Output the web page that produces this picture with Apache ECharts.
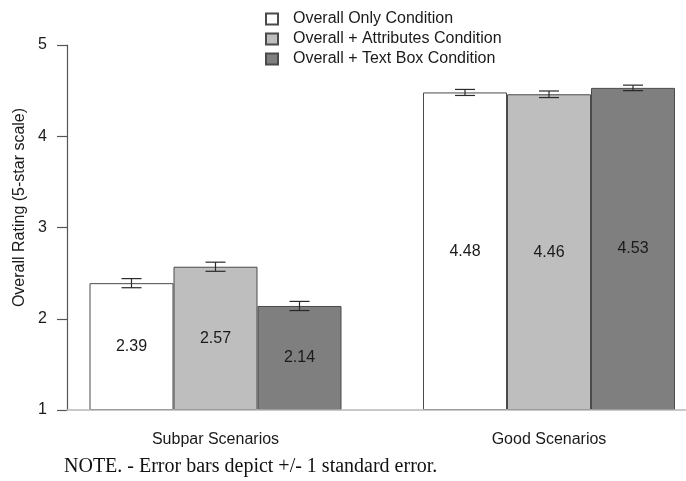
<!DOCTYPE html>
<html>
<head>
<meta charset="utf-8">
<script src="https://cdn.jsdelivr.net/npm/echarts@6/dist/echarts.min.js"></script>
<style>html,body{margin:0;padding:0;background:#fff}#c{width:686px;height:481px}</style>
</head>
<body>
<div id="c"></div>
<script>
const categories = ['Subpar Scenarios', 'Good Scenarios'];
const seriesNames = ['Overall Only Condition', 'Overall + Attributes Condition', 'Overall + Text Box Condition'];
const overallOnly = [2.39, 4.48];
const overallAttributes = [2.57, 4.46];
const overallTextBox = [2.14, 4.53];
const seOverallOnly = [0.05, 0.033];
const seOverallAttributes = [0.05, 0.036];
const seOverallTextBox = [0.05, 0.03];
const yTicks = [1, 2, 3, 4, 5];
const yAxisTitle = 'Overall Rating (5-star scale)';
const noteText = 'NOTE. - Error bars depict +/- 1 standard error.';

const FONT = '"Liberation Sans", Arial, Helvetica, sans-serif';
const colors = ['#ffffff', '#bebebe', '#7f7f7f'];
const BAR_W = 84;
// layout of the category slots (pixels): plot from 67 to 686, slot centers at 215.5 and 549
const GRID_L = 67, GRID_R = 686, C1 = 215.5, C2 = 549;
const slot = C2 - C1;
const xMin = 1 - (C1 - GRID_L) / slot;
const xMax = 2 + (GRID_R - C2) / slot;
const catPos = categories.map((c, i) => i + 1);

const values = [overallOnly, overallAttributes, overallTextBox];
const ses = [seOverallOnly, seOverallAttributes, seOverallTextBox];

const barSeries = values.map((v, k) => ({
  name: seriesNames[k],
  type: 'bar',
  data: v.map((val, i) => [catPos[i], val]),
  barWidth: BAR_W,
  barGap: '0%',
  itemStyle: { color: colors[k], borderColor: '#4a4a4a', borderWidth: 1 },
  label: { show: true, position: 'inside', color: '#1a1a1a', fontSize: 16, fontFamily: FONT,
           formatter: p => p.value[1].toFixed(2) },
  emphasis: { disabled: true },
  z: 2
}));

const errData = [];
values.forEach((v, k) => v.forEach((val, i) => errData.push([catPos[i], val, ses[k][i], k])));

const errSeries = {
  type: 'custom',
  data: errData,
  z: 5,
  silent: true,
  renderItem: function (params, api) {
    const xv = api.value(0), val = api.value(1), se = api.value(2), k = api.value(3);
    const c = api.coord([xv, val]);
    const x = c[0] + (k - 1) * BAR_W;
    const yHi = api.coord([xv, val + se])[1];
    const yLo = api.coord([xv, val - se])[1];
    const hw = 10;
    const st = { stroke: '#2a2a2a', lineWidth: 1.2 };
    return { type: 'group', children: [
      { type: 'line', shape: { x1: x, y1: yHi, x2: x, y2: yLo }, style: st },
      { type: 'line', shape: { x1: x - hw, y1: yHi, x2: x + hw, y2: yHi }, style: st },
      { type: 'line', shape: { x1: x - hw, y1: yLo, x2: x + hw, y2: yLo }, style: st }
    ]};
  }
};

const chart = echarts.init(document.getElementById('c'), null, { renderer: 'canvas' });
chart.setOption({
  animation: false,
  backgroundColor: '#ffffff',
  textStyle: { fontFamily: FONT },
  legend: {
    orient: 'vertical', left: 265, top: 11, padding: 0,
    itemWidth: 12, itemHeight: 11, itemGap: 4,
    icon: 'rect',
    data: seriesNames,
    textStyle: { fontSize: 16, color: '#1a1a1a', fontFamily: FONT, padding: [0, 0, 0, 10] },
    selectedMode: false
  },
  grid: { left: GRID_L, right: 686 - GRID_R, top: 45, bottom: 71, containLabel: false },
  xAxis: {
    type: 'value', min: xMin, max: xMax, z: 10,
    axisLine: { show: true, onZero: false, lineStyle: { color: '#b8b8b8', width: 1.5 } },
    axisTick: { show: false },
    axisLabel: { show: true, customValues: catPos, fontSize: 16, color: '#1a1a1a', margin: 22, fontFamily: FONT,
                 formatter: v => categories[Math.round(v) - 1] || '' },
    splitLine: { show: false }
  },
  yAxis: {
    type: 'value', min: yTicks[0], max: yTicks[yTicks.length - 1], interval: 1, startValue: 1,
    axisLine: { show: true, lineStyle: { color: '#555555', width: 1.2 } },
    axisTick: { show: true, length: 10, lineStyle: { color: '#555555', width: 1.2 } },
    axisLabel: { fontSize: 16, color: '#1a1a1a', margin: 20, fontFamily: FONT },
    splitLine: { show: false }
  },
  series: barSeries.concat([errSeries]),
  graphic: [
    { type: 'text', x: 20, y: 207.5, rotation: Math.PI / 2,
      style: { text: yAxisTitle, fontSize: 16, fontFamily: FONT, fill: '#1a1a1a',
               textAlign: 'center', textVerticalAlign: 'middle' } },
    { type: 'text', left: 64, top: 457,
      style: { text: noteText, fontSize: 20, fontFamily: '"Liberation Serif", "Times New Roman", serif', fill: '#111' } }
  ]
});
</script>
</body>
</html>
